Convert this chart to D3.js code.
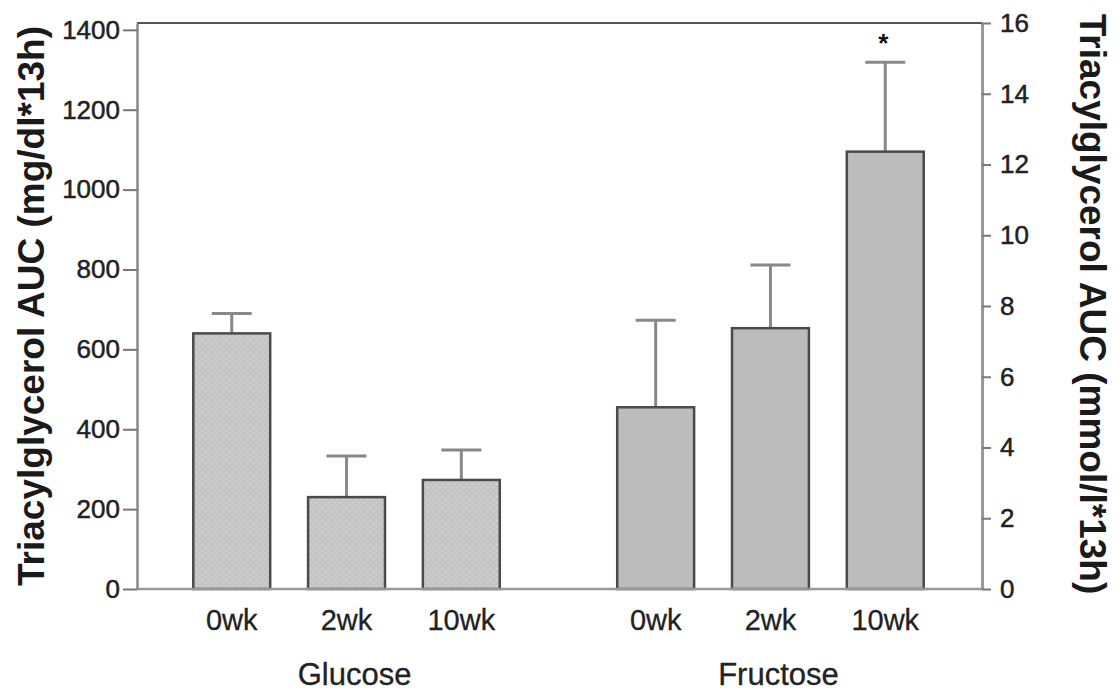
<!DOCTYPE html>
<html>
<head>
<meta charset="utf-8">
<script src="https://cdn.jsdelivr.net/npm/d3@7"></script>
<style>
  html, body { margin: 0; padding: 0; background: #fff; }
  svg { display: block; font-family: "Liberation Sans", Arial, sans-serif; }
</style>
</head>
<body>
<svg id="chart" width="1120" height="693"></svg>
<script>
// Triacylglycerol AUC by diet and week (mg/dl*13h), with upper error bars
const groups = ["Glucose", "Fructose"];
const weeks = ["0wk", "2wk", "10wk"];
const glucoseAUC = [640, 230, 273];
const glucoseErr = [50, 103, 75];
const fructoseAUC = [455, 653, 1095];
const fructoseErr = [218, 158, 224];
const significant = [[false, false, false], [false, false, true]];
const leftTicks = [0, 200, 400, 600, 800, 1000, 1200, 1400];
const rightTicks = [0, 2, 4, 6, 8, 10, 12, 14, 16];
const mgPerMmol = 88.57; // triacylglycerol conversion between the two axes

const rows = [];
[glucoseAUC, fructoseAUC].forEach((vals, gi) => {
  const errs = gi === 0 ? glucoseErr : fructoseErr;
  vals.forEach((v, wi) => rows.push({
    group: groups[gi], week: weeks[wi], value: v, err: errs[wi],
    star: significant[gi][wi]
  }));
});

const svg = d3.select("#chart");
const plotLeft = 137, plotRight = 982, plotTop = 23, plotBottom = 589;

const yR = d3.scaleLinear().domain([0, 16]).range([plotBottom, plotTop]);
const yL = d3.scaleLinear().domain([0, 16 * mgPerMmol]).range([plotBottom, plotTop]);

const x0 = d3.scaleBand().domain(groups).range([135, plotRight])
  .paddingInner(0.277).paddingOuter(0.1375);
const x1 = d3.scaleBand().domain(weeks).range([0, x0.bandwidth()])
  .paddingInner(0.33).paddingOuter(0);

// stippled fill for the glucose bars
const defs = svg.append("defs");
const pat = defs.append("pattern").attr("id", "stipple")
  .attr("width", 6).attr("height", 6).attr("patternUnits", "userSpaceOnUse");
pat.append("rect").attr("width", 6).attr("height", 6).attr("fill", "#c4c4c4");
pat.append("circle").attr("cx", 1.5).attr("cy", 1.5).attr("r", 1).attr("fill", "#d6d6d6");
pat.append("circle").attr("cx", 4.5).attr("cy", 4.5).attr("r", 1).attr("fill", "#d6d6d6");

// frame: top line
svg.append("line").attr("x1", plotLeft).attr("x2", plotRight)
  .attr("y1", plotTop).attr("y2", plotTop)
  .attr("stroke", "#555").attr("stroke-width", 2);

// error bars (upper only)
const eb = svg.append("g").attr("stroke", "#888").attr("stroke-width", 3);
rows.forEach(d => {
  const cx = x0(d.group) + x1(d.week) + x1.bandwidth() / 2;
  eb.append("line").attr("x1", cx).attr("x2", cx)
    .attr("y1", yL(d.value)).attr("y2", yL(d.value + d.err));
  eb.append("line").attr("x1", cx - 20).attr("x2", cx + 20)
    .attr("y1", yL(d.value + d.err)).attr("y2", yL(d.value + d.err));
});

// bars
svg.append("g").selectAll("rect").data(rows).join("rect")
  .attr("x", d => x0(d.group) + x1(d.week))
  .attr("width", x1.bandwidth())
  .attr("y", d => yL(d.value))
  .attr("height", d => yL(0) - yL(d.value))
  .attr("fill", d => d.group === "Glucose" ? "url(#stipple)" : "#bcbcbc")
  .attr("stroke", "#4a4a4a").attr("stroke-width", 2.5);

// significance marker
svg.append("g").selectAll("text").data(rows.filter(d => d.star)).join("text")
  .attr("x", d => x0(d.group) + x1(d.week) + x1.bandwidth() / 2 - 2)
  .attr("y", d => yL(d.value + d.err) - 10)
  .attr("text-anchor", "middle").attr("font-size", 26).attr("font-weight", "bold")
  .attr("fill", "#111").text("*");

// baseline
svg.append("line").attr("x1", plotLeft).attr("x2", plotRight)
  .attr("y1", plotBottom).attr("y2", plotBottom)
  .attr("stroke", "#999").attr("stroke-width", 2.5);

// left axis
const gL = svg.append("g").attr("transform", `translate(${plotLeft},0)`)
  .call(d3.axisLeft(yL).tickValues(leftTicks).tickFormat(d3.format("d"))
    .tickSize(14).tickSizeOuter(0).tickPadding(3));
gL.select(".domain").attr("stroke", "#888").attr("stroke-width", 2.5);
gL.selectAll(".tick line").attr("stroke", "#777").attr("stroke-width", 2);
gL.selectAll(".tick text").attr("font-size", 26).attr("fill", "#222")
  .attr("stroke", "#222").attr("stroke-width", 0.5)
  .style("font-family", "'Liberation Sans', Arial, sans-serif");

// right axis
const gR = svg.append("g").attr("transform", `translate(${plotRight},0)`)
  .call(d3.axisRight(yR).tickValues(rightTicks).tickFormat(d3.format("d"))
    .tickSize(9).tickSizeOuter(0).tickPadding(9));
gR.select(".domain").attr("stroke", "#999").attr("stroke-width", 3);
gR.selectAll(".tick line").attr("stroke", "#777").attr("stroke-width", 2);
gR.selectAll(".tick text").attr("font-size", 26).attr("fill", "#222")
  .attr("stroke", "#222").attr("stroke-width", 0.5)
  .style("font-family", "'Liberation Sans', Arial, sans-serif");

// week labels
svg.append("g").selectAll("text").data(rows).join("text")
  .attr("x", d => x0(d.group) + x1(d.week) + x1.bandwidth() / 2)
  .attr("y", 630)
  .attr("text-anchor", "middle").attr("font-size", 29).attr("fill", "#222")
  .attr("stroke", "#222").attr("stroke-width", 0.3)
  .text(d => d.week);

// diet labels
svg.append("g").selectAll("text").data(groups).join("text")
  .attr("x", d => x0(d) + x0.bandwidth() / 2 + 8)
  .attr("y", 685)
  .attr("text-anchor", "middle").attr("font-size", 31).attr("fill", "#222")
  .attr("stroke", "#222").attr("stroke-width", 0.3)
  .text(d => d);

// axis titles
svg.append("text")
  .attr("transform", `translate(44,306) rotate(-90)`)
  .attr("text-anchor", "middle").attr("font-size", 37).attr("font-weight", "bold")
  .attr("fill", "#1a1a1a").text("Triacylglycerol AUC (mg/dl*13h)");
svg.append("text")
  .attr("transform", `translate(1080,304) rotate(90)`)
  .attr("text-anchor", "middle").attr("font-size", 37).attr("font-weight", "bold")
  .attr("fill", "#1a1a1a").text("Triacylglycerol AUC (mmol/l*13h)");
</script>
</body>
</html>
